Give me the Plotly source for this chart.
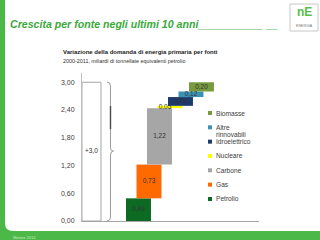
import plotly.graph_objects as go

# ---- data ----
categories = ["Petrolio", "Gas", "Carbone", "Nucleare", "Idroelettrico", "Altre rinnovabili", "Biomasse"]
values = [0.49, 0.73, 1.22, 0.05, 0.19, 0.12, 0.20]
colors = ["#0d6a22", "#ff6a00", "#a6a6a6", "#ffff00", "#1d3a6b", "#3a92b5", "#789a3f"]
total_value = 3.0
total_label = "+3,0"
y_ticks = [0.0, 0.6, 1.2, 1.8, 2.4, 3.0]

title_text = "Crescita per fonte negli ultimi 10 anni___________ __"
subtitle1 = "Variazione della domanda di energia primaria per fonti"
subtitle2 = "2000-2011, miliardi di tonnellate equivalenti petrolio"
footer = "Motore 2012"

# ---- layout helpers ----
W, H = 320, 240
GREEN = "#4cb848"
TXT = "#404040"


def PX(x):
    return x / W


def PY(y):
    return 1 - y / H


def fmt(v):
    return f"{v:.2f}".replace(".", ",")


bases = []
acc = 0.0
for v in values:
    bases.append(acc)
    acc += v

xs = list(range(len(values)))
total_x = -4.476

fig = go.Figure()

# total (white) bar
fig.add_trace(go.Bar(
    x=[total_x], y=[total_value], base=[0], width=[1.81],
    marker=dict(color="white", line=dict(color="#a6a6a6", width=1)),
    showlegend=False, hoverinfo="skip"))

# waterfall bars
fig.add_trace(go.Bar(
    x=xs, y=values, base=bases, width=2.38,
    marker=dict(color=colors, line=dict(width=0)),
    showlegend=False))

# value labels
lab_x = [x - (0.47 if c == "Nucleare" else 0) for x, c in zip(xs, categories)]
lab_y = [b + v / 2 for b, v in zip(bases, values)]
fig.add_trace(go.Scatter(
    x=lab_x + [total_x], y=lab_y + [total_value / 2],
    text=[fmt(v) for v in values] + [total_label],
    mode="text", textfont=dict(size=6.5, color="#333333", family="Liberation Sans"),
    showlegend=False, cliponaxis=False))

# legend markers (pixel-space overlay axis)
leg_order = list(range(len(categories)))[::-1]
leg_y = [113 + 14.33 * k for k in range(len(leg_order))]
fig.add_trace(go.Scatter(
    x=[210] * len(leg_order), y=leg_y,
    mode="markers",
    marker=dict(symbol="square", size=4, color=[colors[i] for i in leg_order]),
    xaxis="x2", yaxis="y2", showlegend=False, cliponaxis=False))

annotations = []
for k, i in enumerate(leg_order):
    for j, part in enumerate(categories[i].split(" ")):
        annotations.append(dict(
            x=214, y=leg_y[k] + 7.4 * j, xref="x2", yref="y2", xanchor="left", yanchor="middle",
            text=part, showarrow=False,
            font=dict(size=6.6, color=TXT, family="Liberation Sans")))

annotations += [
    dict(x=PX(8), y=PY(24), xref="paper", yref="paper", xanchor="left", yanchor="middle",
         text="<b><i>" + title_text + "</i></b>", showarrow=False,
         font=dict(size=10.6, color="#3aa83a", family="Liberation Sans")),
    dict(x=PX(61), y=PY(52), xref="paper", yref="paper", xanchor="left", yanchor="middle",
         text="<b>" + subtitle1 + "</b>", showarrow=False,
         font=dict(size=6.0, color="#222222", family="Liberation Sans")),
    dict(x=PX(61), y=PY(61), xref="paper", yref="paper", xanchor="left", yanchor="middle",
         text=subtitle2, showarrow=False,
         font=dict(size=5.4, color="#333333", family="Liberation Sans")),
    dict(x=PX(11), y=PY(237), xref="paper", yref="paper", xanchor="left", yanchor="middle",
         text=footer, showarrow=False,
         font=dict(size=4, color="#cdebc8", family="Liberation Sans")),
    dict(x=PX(304), y=PY(12), xref="paper", yref="paper", xanchor="center", yanchor="middle",
         text="<b>nE</b>", showarrow=False,
         font=dict(size=12, color="#5cbf4c", family="Liberation Sans")),
    dict(x=PX(304), y=PY(26), xref="paper", yref="paper", xanchor="center", yanchor="middle",
         text="ENERGIA", showarrow=False,
         font=dict(size=3.6, color="#777777", family="Liberation Sans")),
]


def P(x, y):
    return f"{PX(x):.5f},{PY(y):.5f}"


shapes = [
    # white page area with rounded bottom-left corner
    dict(type="path", xref="paper", yref="paper", layer="below",
         path=f"M{P(5, 0)} L{P(320, 0)} L{P(320, 231)} L{P(13, 231)} Q{P(5, 231)} {P(5, 223)} Z",
         fillcolor="white", line=dict(width=0)),
    # logo box
    dict(type="rect", xref="paper", yref="paper", layer="below",
         x0=PX(290), x1=PX(318), y0=PY(31), y1=PY(4),
         fillcolor="white", line=dict(color="#c8c8c8", width=1)),
    # brace
    dict(type="path", xref="paper", yref="paper",
         path=(f"M{P(107, 82)} Q{P(110.5, 82)} {P(110.5, 86)} L{P(110.5, 147)} "
               f"Q{P(110.5, 151)} {P(113.5, 151)} Q{P(110.5, 151)} {P(110.5, 155)} "
               f"L{P(110.5, 217)} Q{P(110.5, 221)} {P(107, 221)}"),
         line=dict(color="#9a9a9a", width=1)),
    dict(type="line", xref="paper", yref="paper",
         x0=PX(110.5), x1=PX(110.5), y0=PY(106), y1=PY(129),
         line=dict(color="#4a4a4a", width=1.4)),
]

fig.update_layout(
    width=W, height=H,
    margin=dict(l=0, r=0, t=0, b=0),
    paper_bgcolor=GREEN,
    plot_bgcolor="rgba(0,0,0,0)",
    separators=",.",
    barmode="overlay",
    showlegend=False,
    font=dict(family="Liberation Sans", color=TXT),
    xaxis=dict(domain=[PX(82), PX(259)], range=[-5.38, 11.48],
               showline=True, linecolor="#a6a6a6", linewidth=1,
               showticklabels=False, showgrid=False, zeroline=False, ticks="",
               fixedrange=True),
    yaxis=dict(domain=[PY(221), PY(73)], range=[0, 3.2],
               showline=True, linecolor="#bfbfbf", linewidth=1,
               tickvals=y_ticks, tickformat=".2f", ticks="",
               tickfont=dict(size=7, color=TXT, family="Liberation Sans"),
               ticklabelstandoff=5,
               showgrid=False, zeroline=False, automargin=False, fixedrange=True),
    xaxis2=dict(domain=[0, 1], range=[0, W], visible=False, anchor="y2", fixedrange=True),
    yaxis2=dict(domain=[0, 1], range=[H, 0], visible=False, anchor="x2", fixedrange=True),
    annotations=annotations,
    shapes=shapes,
)

fig.write_html("out.html", config={"displayModeBar": False})
